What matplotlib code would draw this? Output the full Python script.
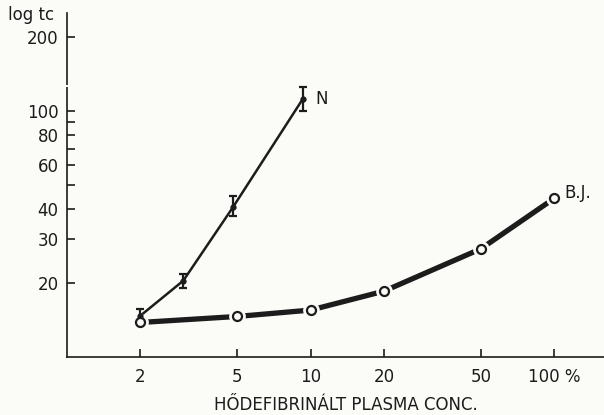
import numpy as np
import matplotlib
matplotlib.use("Agg")
import matplotlib.pyplot as plt
from matplotlib.ticker import FixedLocator, NullFormatter, NullLocator

# values
n_conc = [2, 3, 4.8, 9.3]
n_tc = [14.7, 20.4, 40.6, 112]
n_err_lo = [1.0, 1.3, 3.3, 12]
n_err_hi = [1.0, 1.3, 4.4, 13]

bj_conc = [2, 5, 10, 20, 50, 100]
bj_tc = [13.8, 14.6, 15.5, 18.5, 27.5, 44.1]

x_ticks = [2, 5, 10, 20, 50, 100]
x_labels = ["2", "5", "10", "20", "50", "100 %"]
y_major = [20, 30, 40, 60, 80, 100, 200]
y_minor = [50, 70, 90]

ink = "#1c1c1c"
bg = "#fbfbf8"
plt.rcParams["font.family"] = ["DejaVu Sans"]

fig = plt.figure(figsize=(6.04, 4.15), dpi=100, facecolor=bg)
ax = fig.add_axes([0.111, 0.14, 0.889, 0.829])
ax.set_facecolor(bg)

ax.set_xscale("log")
ax.set_yscale("log")
ax.set_xlim(1, 160)
ax.set_ylim(10, 250)

# N series: thin line, filled dots with error bars
ax.plot(n_conc, n_tc, color=ink, lw=1.8, zorder=2)
ax.errorbar(n_conc, n_tc, yerr=[n_err_lo, n_err_hi], fmt="o", ms=3.5,
            color=ink, ecolor=ink, elinewidth=1.6, capsize=3, capthick=1.6, zorder=4)

# B.J. series: thick line, open circles with a small gap
ax.plot(bj_conc, bj_tc, color=ink, lw=3.8, solid_capstyle="butt", zorder=2)
ax.plot(bj_conc, bj_tc, "o", ms=11, color=bg, zorder=3)
ax.plot(bj_conc, bj_tc, "o", ms=6.5, mfc=bg, mec=ink, mew=1.6, zorder=5)

ax.text(n_conc[-1] * 1.12, n_tc[-1], "N", fontsize=12, color=ink, va="center")
ax.text(bj_conc[-1] * 1.1, bj_tc[-1] * 1.05, "B.J.", fontsize=12, color=ink, va="center")

for s in ["top", "right"]:
    ax.spines[s].set_visible(False)
for s in ["left", "bottom"]:
    ax.spines[s].set_color(ink)
    ax.spines[s].set_linewidth(1.2)

# tiny break in the y axis between 100 and 200
ax.plot([0, 0], [125, 127], color=bg, lw=3, solid_capstyle="butt",
        transform=ax.get_yaxis_transform(), clip_on=False, zorder=6)

ax.xaxis.set_major_locator(FixedLocator(x_ticks))
ax.set_xticklabels(x_labels)
ax.xaxis.set_minor_locator(NullLocator())
ax.yaxis.set_major_locator(FixedLocator(y_major))
ax.set_yticklabels([str(v) for v in y_major])
ax.yaxis.set_minor_locator(FixedLocator(y_minor))
ax.yaxis.set_minor_formatter(NullFormatter())
ax.tick_params(axis="both", which="both", direction="in", colors=ink,
               labelsize=12, width=1.2)
ax.tick_params(axis="both", which="major", length=6)
ax.tick_params(axis="y", which="minor", length=6)
ax.tick_params(axis="x", pad=8)
ax.tick_params(axis="y", pad=6)

ax.set_xlabel("HŐDEFIBRINÁLT PLASMA CONC.", fontsize=12, color=ink, labelpad=6)
ax.xaxis.set_label_coords(0.52, -0.115)
fig.text(0.013, 0.965, "log tc", fontsize=12, color=ink, va="center")

fig.savefig("out.png", dpi=100, facecolor=fig.get_facecolor())
